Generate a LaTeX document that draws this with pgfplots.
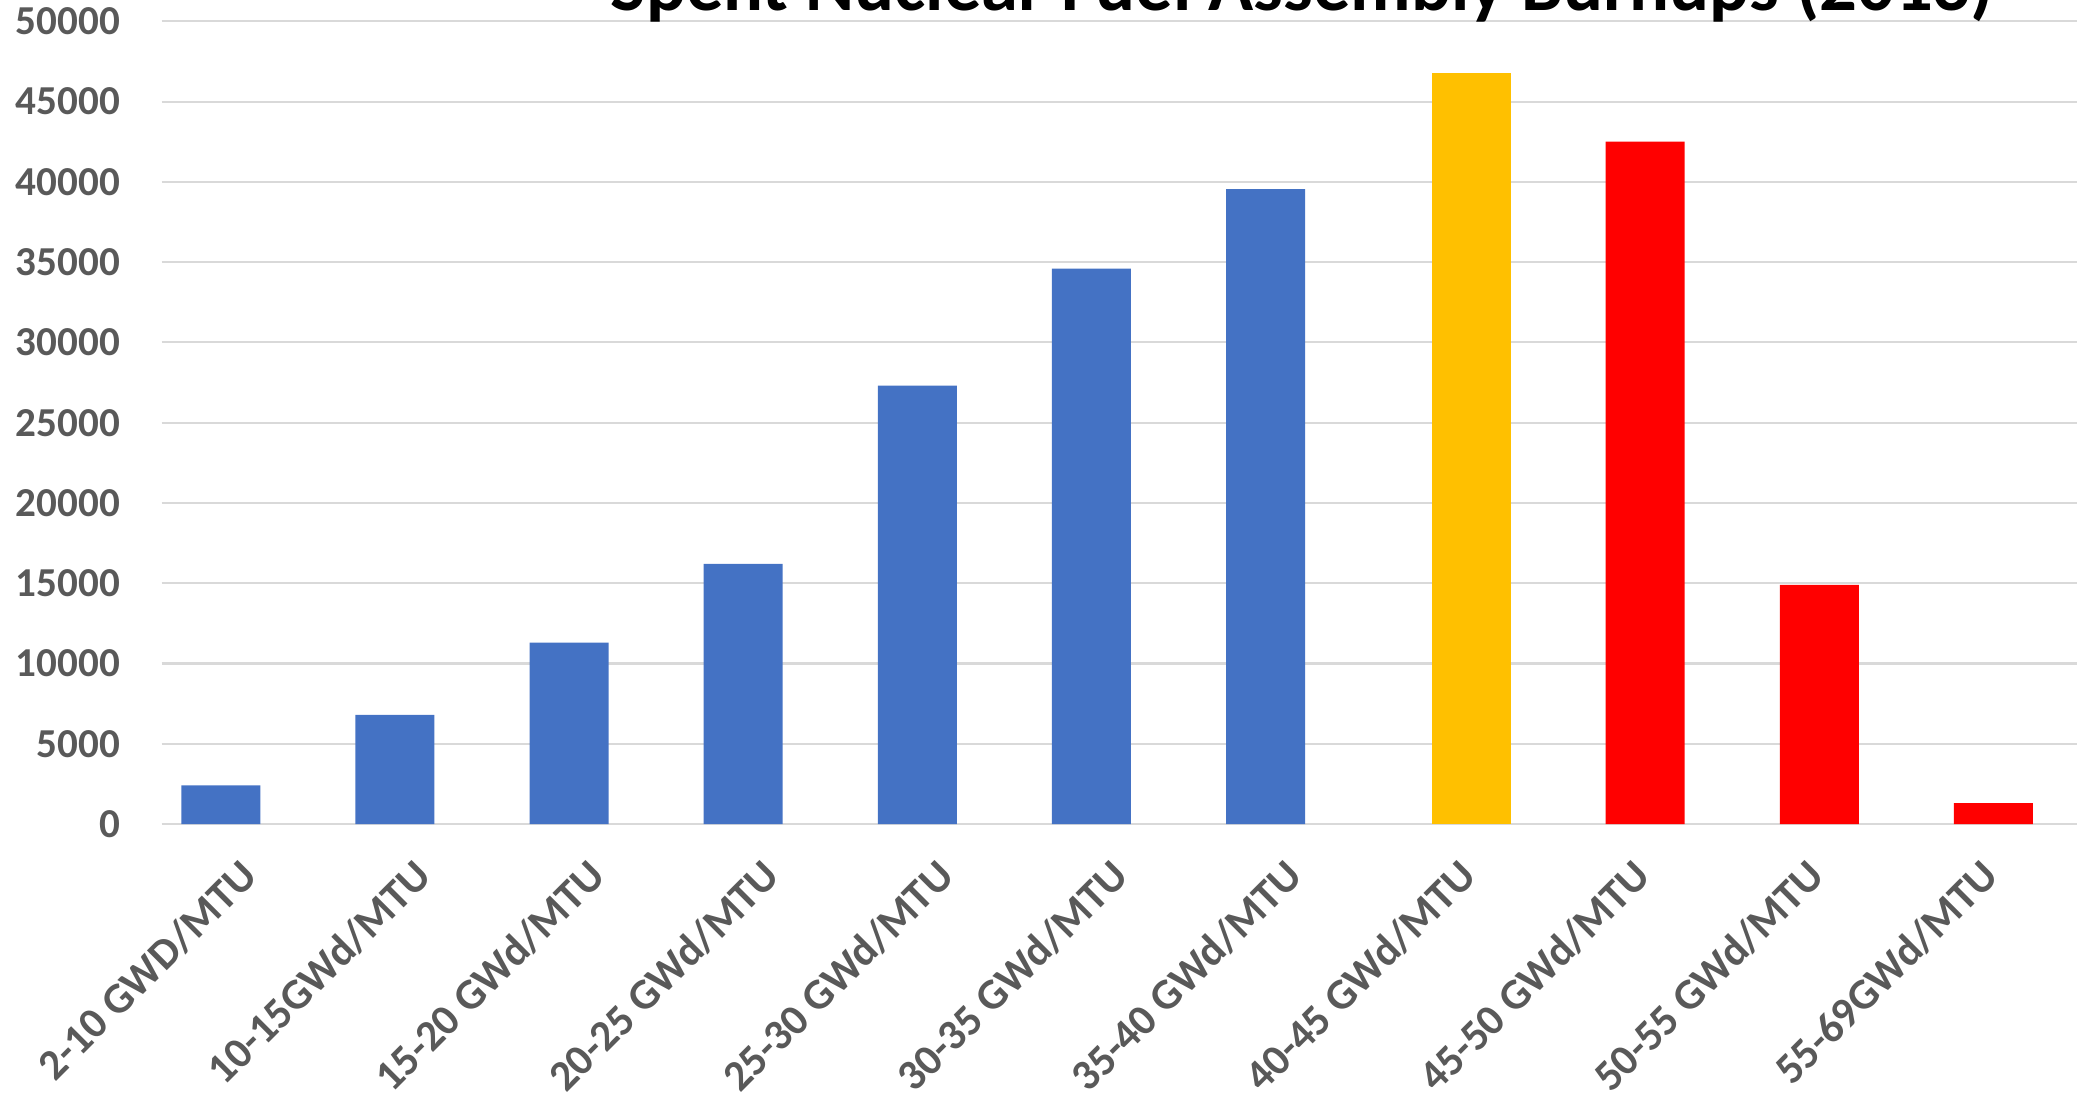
\documentclass[border=0pt]{standalone}
\usepackage{fontspec}
\setmainfont{Carlito}
\usepackage{pgfplots}
\pgfplotsset{compat=1.18}

\definecolor{exblue}{HTML}{4472C4}
\definecolor{exyellow}{HTML}{FFC000}
\definecolor{exred}{HTML}{FF0000}
\definecolor{gridgray}{HTML}{D9D9D9}
\definecolor{labelgray}{HTML}{595959}

\begin{document}
\begin{tikzpicture}
\begin{axis}[
    anchor=south west, at={(1.616cm,2.715cm)},
    scale only axis,
    width=19.154cm, height=8.027cm,
    xmin=-0.5, xmax=10.5,
    ymin=0, ymax=50000,
    ytick={0,5000,...,50000},
    xtick={0,...,10},
    xticklabels={2-10 GWD/MTU, 10-15GWd/MTU, 15-20 GWd/MTU, 20-25 GWd/MTU,
        25-30 GWd/MTU, 30-35 GWd/MTU, 35-40 GWd/MTU, 40-45 GWd/MTU,
        45-50 GWd/MTU, 50-55 GWd/MTU, 55-69GWd/MTU},
    scaled y ticks=false,
    /pgf/number format/assume math mode=true,
    /pgf/number format/1000 sep={},
    axis line style={draw=none},
    major tick length=0pt,
    ymajorgrids,
    grid style={gridgray, line width=0.6pt},
    yticklabel style={font=\fontsize{11.7}{14}\selectfont\bfseries, text=labelgray,
        anchor=east, inner sep=0pt, xshift=-0.41cm},
    % shifts below act in the rotated frame of the label
    xticklabel style={font=\fontsize{12.3}{14}\selectfont\bfseries, text=labelgray,
        rotate=45, anchor=north east, inner sep=0pt, xshift=-0.30cm, yshift=-0.15cm},
    ybar, bar width=0.454,
]
% blue series, shifted left in each category
\addplot[fill=exblue, draw=none, bar shift=-0.16] coordinates {
    (0,2400) (1,6800) (2,11300) (3,16200) (4,27300) (5,34600) (6,39550)
};
\addplot[fill=exyellow, draw=none, bar shift=0.02] coordinates {
    (7,46800)
};
\addplot[fill=exred, draw=none, bar shift=0.02] coordinates {
    (8,42500) (9,14900) (10,1300)
};
\end{axis}
\node[anchor=base, font=\fontsize{21.2}{25}\selectfont\bfseries] at (13.021,10.849)
    {Spent Nuclear Fuel Assembly Burnups (2013)};
\pgfresetboundingbox
\path[use as bounding box] (0,0) rectangle (20.77,10.955);
\end{tikzpicture}
\end{document}
